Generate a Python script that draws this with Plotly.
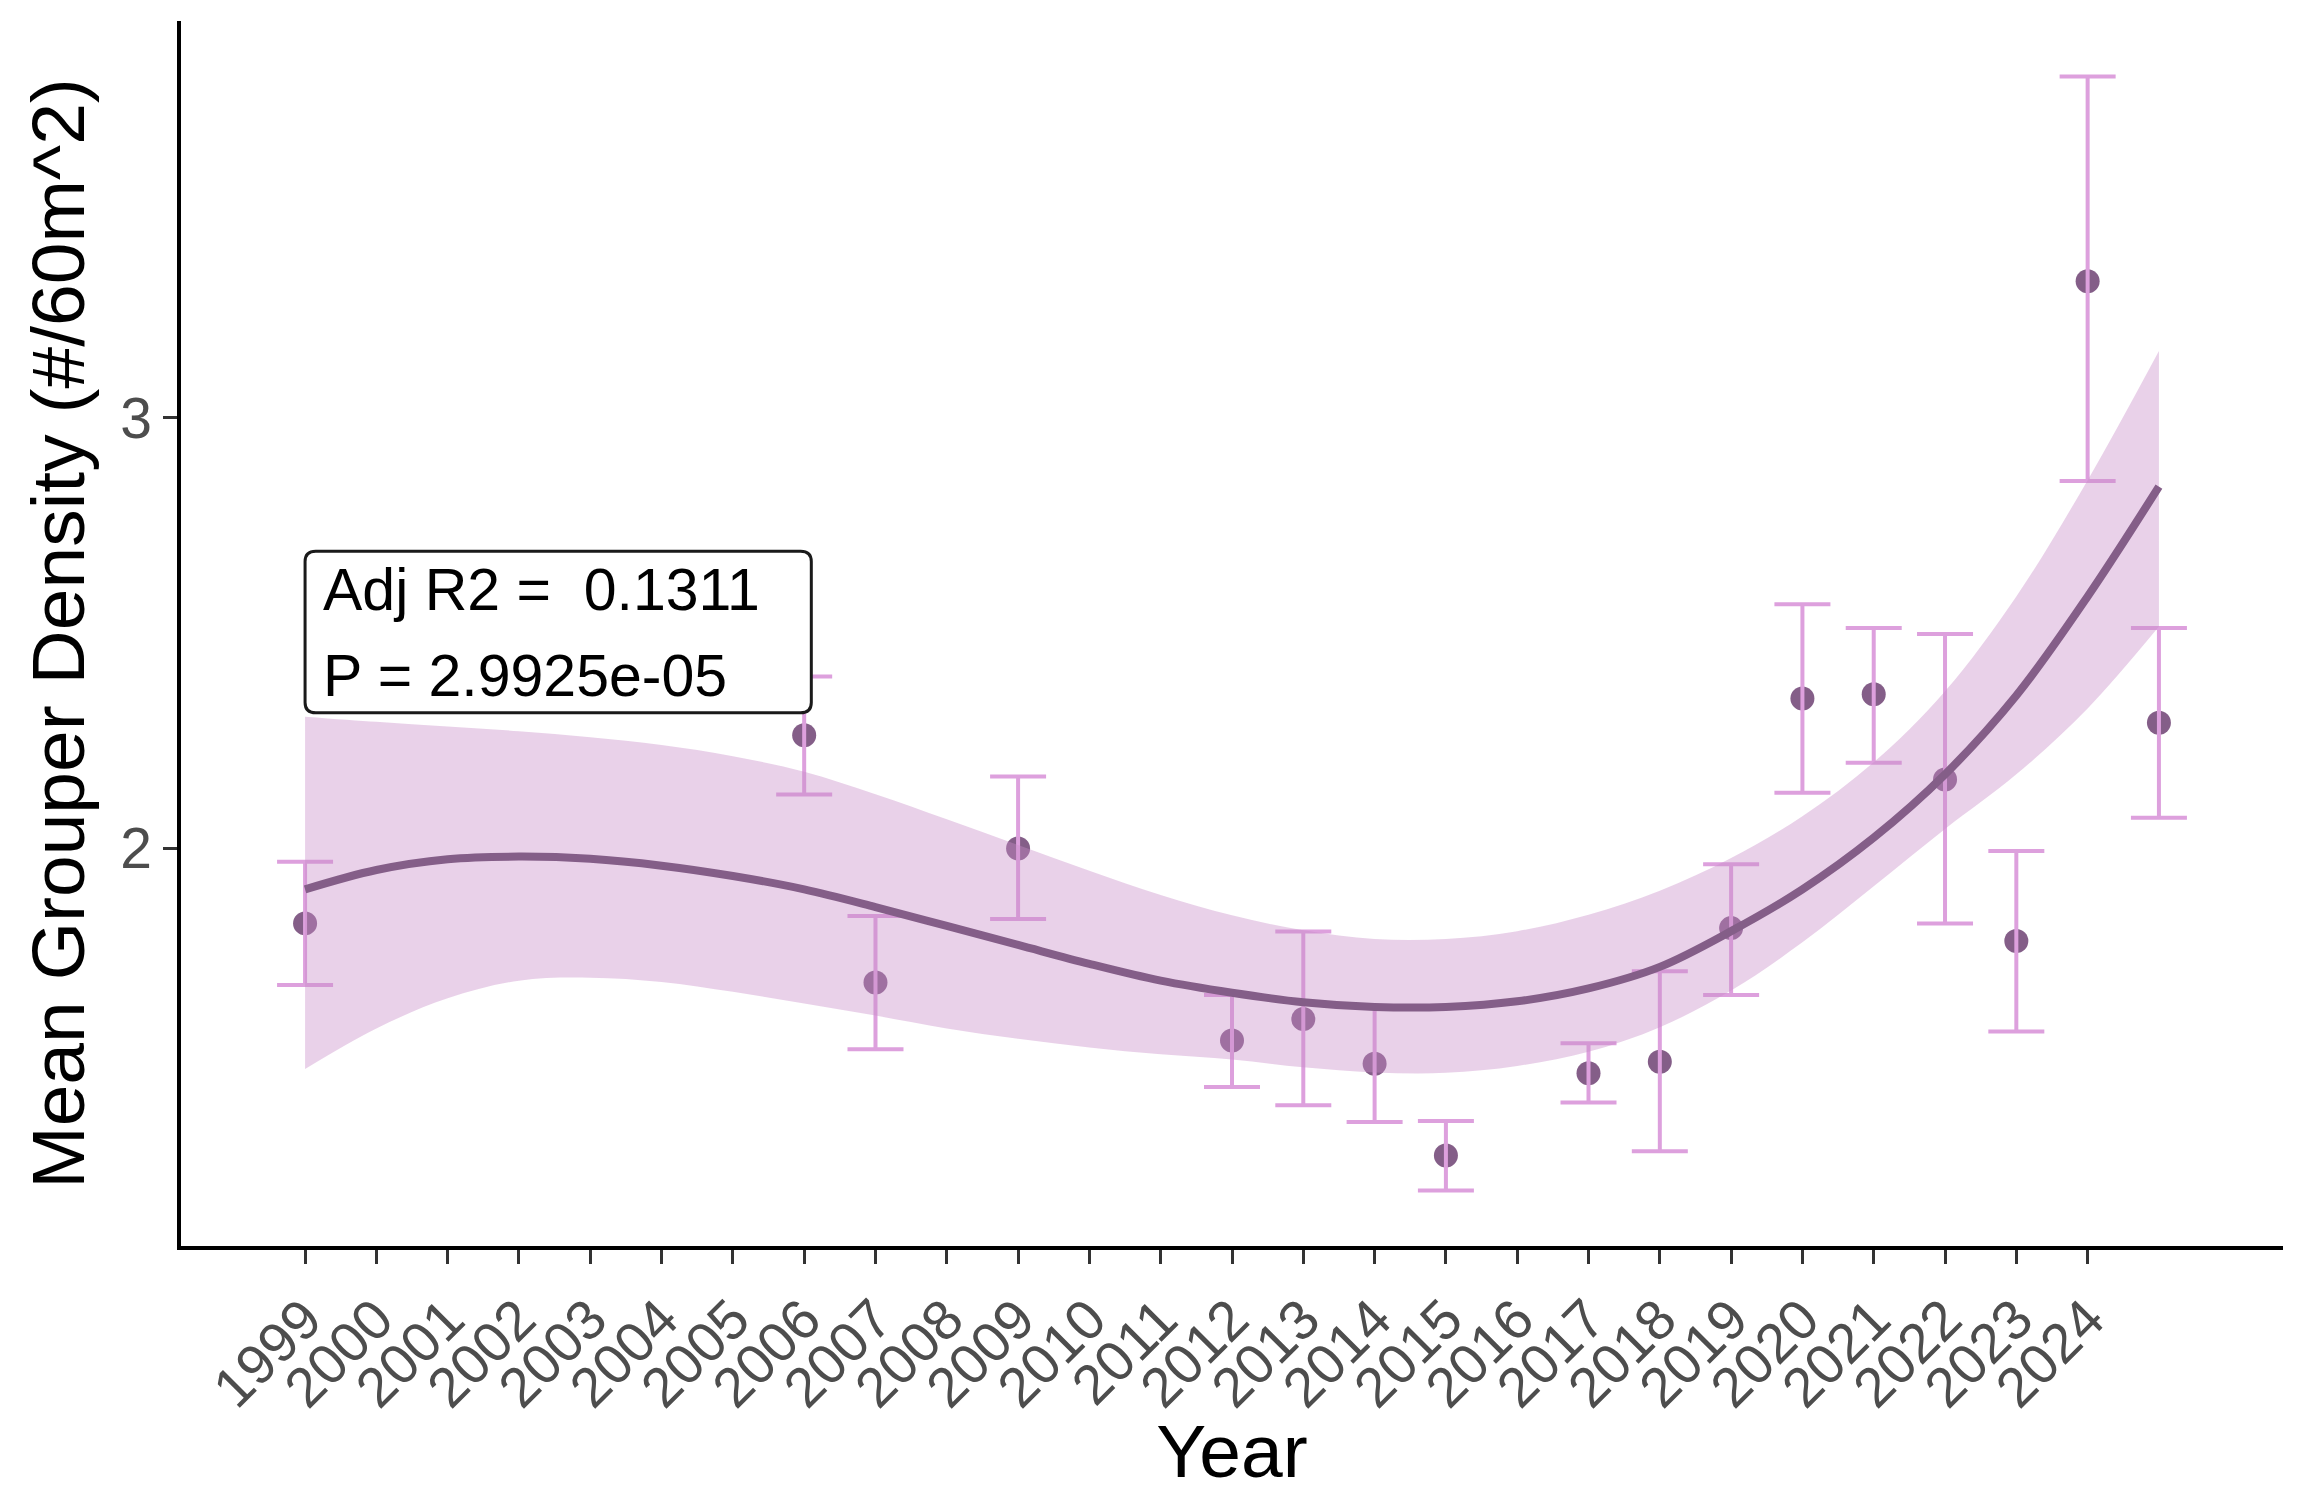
import plotly.graph_objects as go

# ---- data ----
years = [1999, 2006, 2007, 2009, 2012, 2013, 2014, 2015, 2017, 2018, 2019, 2020, 2021, 2022, 2023, 2024, 2025]
mean_density = [1.826, 2.263, 1.689, 2.000, 1.554, 1.604, 1.500, 1.287, 1.478, 1.505, 1.815, 2.348, 2.358, 2.160, 1.785, 3.317, 2.292]
err_upper = [1.969, 2.399, 1.843, 2.167, 1.660, 1.807, 1.633, 1.367, 1.548, 1.715, 1.963, 2.567, 2.512, 2.498, 1.994, 3.792, 2.512]
err_lower = [1.683, 2.125, 1.534, 1.836, 1.446, 1.404, 1.365, 1.206, 1.410, 1.297, 1.660, 2.129, 2.199, 1.826, 1.575, 2.853, 2.071]

fit_years = list(range(1999, 2026))
fit_mean = [1.905, 1.950, 1.975, 1.981, 1.976, 1.960, 1.936, 1.905, 1.864, 1.820, 1.776, 1.732,
            1.693, 1.665, 1.643, 1.632, 1.632, 1.645, 1.675, 1.725, 1.808, 1.905, 2.025, 2.172,
            2.355, 2.585, 2.840]
fit_upper = [2.306, 2.294, 2.283, 2.272, 2.258, 2.240, 2.214, 2.178, 2.126, 2.068, 2.008, 1.948,
             1.892, 1.845, 1.810, 1.790, 1.790, 1.808, 1.846, 1.902, 1.978, 2.075, 2.200, 2.365,
             2.585, 2.855, 3.155]
fit_lower = [1.488, 1.582, 1.652, 1.693, 1.700, 1.690, 1.667, 1.640, 1.612, 1.582, 1.558, 1.538,
             1.522, 1.510, 1.492, 1.480, 1.479, 1.495, 1.528, 1.585, 1.670, 1.782, 1.912, 2.045,
             2.172, 2.325, 2.515]

tick_years = list(range(1999, 2025))
tick_labels = [str(y) for y in tick_years]

adj_r2_text = "Adj R2 =\u00a0\u00a00.1311"
p_text = "P = 2.9925e-05"

FONT = "Liberation Sans, Arial, Helvetica, sans-serif"

err_plus = [u - m for u, m in zip(err_upper, mean_density)]
err_minus = [m - l for m, l in zip(mean_density, err_lower)]

fig = go.Figure()

# points
fig.add_trace(go.Scatter(
    x=years, y=mean_density, mode="markers",
    marker=dict(size=24, color="#845E88"),
    showlegend=False, hoverinfo="skip"))

# error bars (drawn above the points)
fig.add_trace(go.Scatter(
    x=years, y=mean_density, mode="markers",
    marker=dict(size=1, color="rgba(0,0,0,0)"),
    error_y=dict(type="data", symmetric=False, array=err_plus, arrayminus=err_minus,
                 color="#DDA0DD", thickness=4, width=28),
    showlegend=False, hoverinfo="skip"))

# confidence band
fig.add_trace(go.Scatter(
    x=fit_years, y=fit_lower, mode="lines", line=dict(width=0, shape="spline"),
    showlegend=False, hoverinfo="skip"))
fig.add_trace(go.Scatter(
    x=fit_years, y=fit_upper, mode="lines", line=dict(width=0, shape="spline"),
    fill="tonexty", fillcolor="rgba(200,140,200,0.40)",
    showlegend=False, hoverinfo="skip"))

# fitted line
fig.add_trace(go.Scatter(
    x=fit_years, y=fit_mean, mode="lines",
    line=dict(width=8, color="#845E88", shape="spline"),
    showlegend=False, hoverinfo="skip"))

# label box (rounded)
x0, x1, y0, y1 = 1999.0, 2006.1, 2.315, 2.690
rx, ry = 0.15, 0.024
path = (f"M {x0+rx},{y1} L {x1-rx},{y1} Q {x1},{y1} {x1},{y1-ry} "
        f"L {x1},{y0+ry} Q {x1},{y0} {x1-rx},{y0} L {x0+rx},{y0} "
        f"Q {x0},{y0} {x0},{y0+ry} L {x0},{y1-ry} Q {x0},{y1} {x0+rx},{y1} Z")
fig.add_shape(type="path", path=path, xref="x", yref="y",
              line=dict(color="#1a1a1a", width=3), fillcolor="white", layer="above")

fig.add_annotation(x=1999.22, y=2.600, xref="x", yref="y", text=adj_r2_text,
                   showarrow=False, xanchor="left", yanchor="middle",
                   font=dict(family=FONT, size=59, color="black"))
fig.add_annotation(x=1999.22, y=2.400, xref="x", yref="y", text=p_text,
                   showarrow=False, xanchor="left", yanchor="middle",
                   font=dict(family=FONT, size=59, color="black"))

fig.update_layout(
    width=2312, height=1493,
    margin=dict(l=181, r=29, t=21, b=247),
    paper_bgcolor="white", plot_bgcolor="white",
    font=dict(family=FONT),
    xaxis=dict(
        range=[1997.26, 2026.74],
        tickmode="array", tickvals=tick_years, ticktext=tick_labels,
        tickangle=-45,
        tickfont=dict(family=FONT, size=56, color="#4D4D4D"),
        ticks="outside", ticklen=14, tickwidth=3, tickcolor="#333333",
        showline=True, linecolor="black", linewidth=3.5,
        showgrid=False, zeroline=False, automargin=False,
        title=dict(text="Year", font=dict(family=FONT, size=75, color="black"), standoff=22),
    ),
    yaxis=dict(
        range=[1.077, 3.921],
        tickmode="array", tickvals=[2, 3], ticktext=["2", "3"],
        tickfont=dict(family=FONT, size=57, color="#4D4D4D"),
        ticks="outside", ticklen=14, tickwidth=3, tickcolor="#333333",
        showline=True, linecolor="black", linewidth=3.5,
        showgrid=False, zeroline=False, automargin=False,
        title=dict(text="Mean Grouper Density (#/60m^2)",
                   font=dict(family=FONT, size=75, color="black"), standoff=12),
    ),
)

fig.write_html("out.html")
